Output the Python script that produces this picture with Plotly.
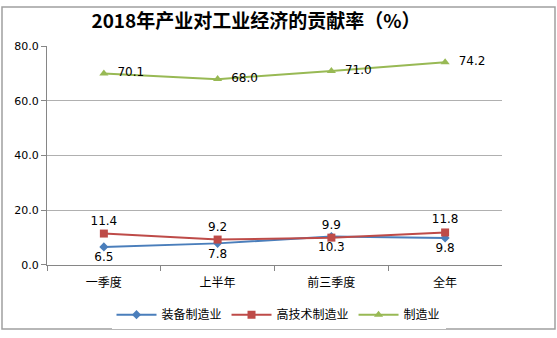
import plotly.graph_objects as go

categories = ["一季度", "上半年", "前三季度", "全年"]
equip = [6.5, 7.8, 10.3, 9.8]
hightech = [11.4, 9.2, 9.9, 11.8]
manuf = [70.1, 68.0, 71.0, 74.2]
yticks = [0, 20, 40, 60, 80]

W, H = 557, 338
x0, x1 = 47, 502
ytop, ybot = 42, 269

font_fam = "DejaVu Sans, Noto Sans CJK SC, sans-serif"
cjk = "Noto Sans CJK SC, sans-serif"

fig = go.Figure()
fig.add_trace(go.Scatter(
    x=categories, y=equip, name="装备制造业", mode="lines+markers+text", cliponaxis=False,
    line=dict(color="#4A7EBB", width=2), marker=dict(symbol="diamond", size=7, color="#4A7EBB"),
    text=[f"{v:.1f}" for v in equip], textposition="bottom center",
    textfont=dict(size=12, color="#000000", family=font_fam)))
fig.add_trace(go.Scatter(
    x=categories, y=hightech, name="高技术制造业", mode="lines+markers+text", cliponaxis=False,
    line=dict(color="#BE4B48", width=2), marker=dict(symbol="square", size=8, color="#BE4B48"),
    text=[f"{v:.1f}" for v in hightech], textposition="top center",
    textfont=dict(size=12, color="#000000", family=font_fam)))
fig.add_trace(go.Scatter(
    x=categories, y=manuf, name="制造业", mode="lines+markers+text", cliponaxis=False,
    line=dict(color="#98B954", width=2), marker=dict(symbol="triangle-up", size=8, color="#98B954"),
    text=["  " + f"{v:.1f}" for v in manuf], textposition="middle right",
    textfont=dict(size=12, color="#000000", family=font_fam)))

fig.update_layout(
    width=W, height=H, margin=dict(l=0, r=0, t=0, b=0),
    paper_bgcolor="white", plot_bgcolor="white",
    font=dict(family=font_fam, size=11, color="#000000"),
    title=dict(text="<b>2018年产业对工业经济的贡献率（%）</b>", x=256 / W, xanchor="center",
               y=1 - 21 / H, yanchor="middle", font=dict(size=19, family=cjk)),
    xaxis=dict(domain=[x0 / W, x1 / W], type="category", range=[-0.5, 3.5], showgrid=False,
               showline=True, linecolor="#868686", linewidth=1,
               ticks="outside", tickson="boundaries", ticklen=5, tickcolor="#868686",
               ticklabelstandoff=7,
               tickfont=dict(size=12, family=cjk)),
    yaxis=dict(domain=[1 - ybot / H, 1 - ytop / H], range=[0, 80], tickvals=yticks,
               ticktext=[f"{v:.1f}" for v in yticks], showgrid=True, gridcolor="#B0B0B0",
               showline=True, linecolor="#868686", linewidth=1, zeroline=False,
               ticks="outside", ticklen=5, tickcolor="#868686", tickfont=dict(size=11)),
    legend=dict(orientation="h", x=0.5, xanchor="center", y=1 - 321 / H, yanchor="middle",
                font=dict(size=12, family=cjk), itemwidth=40),
    showlegend=True,
    shapes=[dict(type="rect", xref="paper", yref="paper", x0=2 / W, x1=555 / W,
                 y0=1 - 336 / H, y1=1 - 1 / H, line=dict(color="#A0A0A0", width=1.5))],
)

fig.write_html("out.html")
